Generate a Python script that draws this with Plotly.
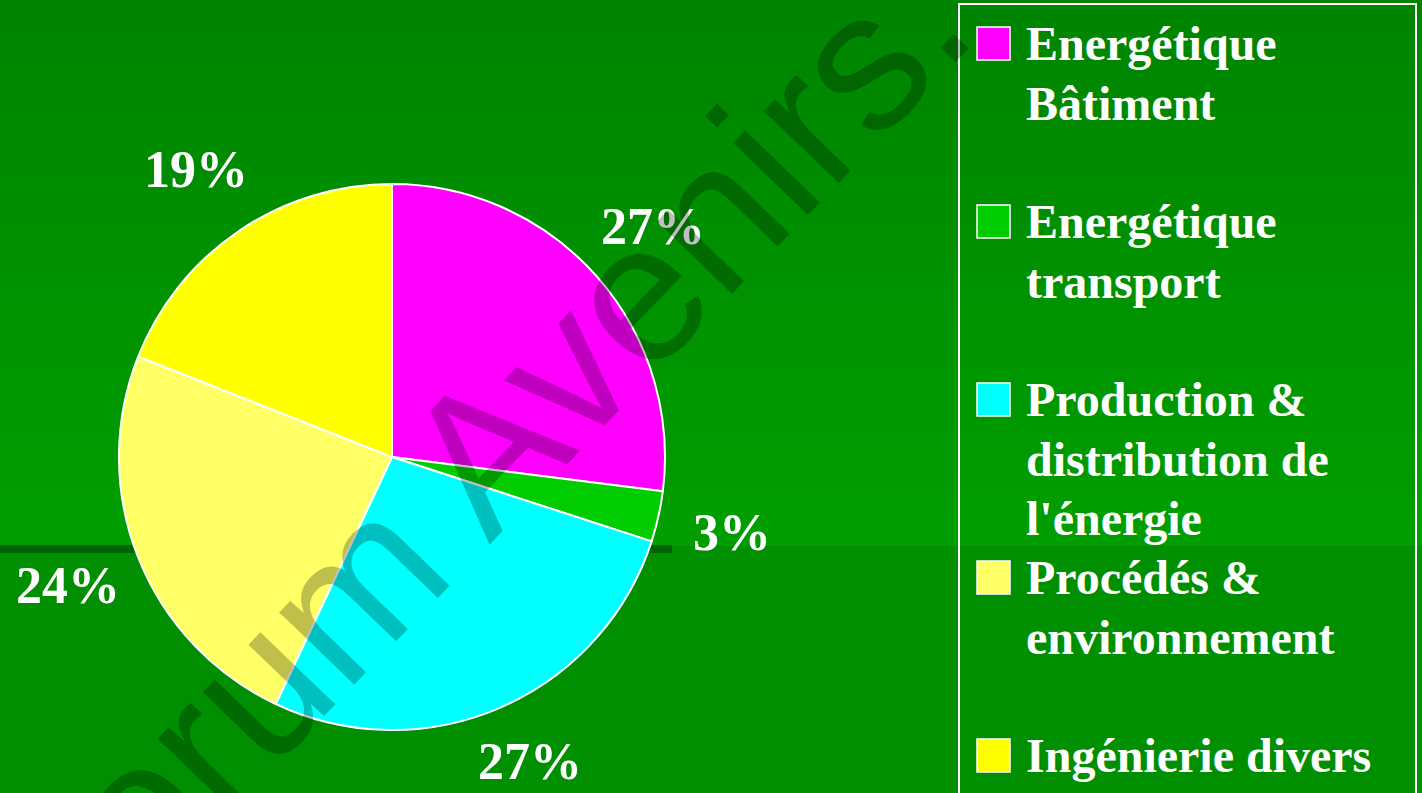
import math
import plotly.graph_objects as go

# ---------------- data ----------------
categories = [
    "Energétique\nBâtiment",
    "Energétique\ntransport",
    "Production &\ndistribution de\nl'énergie",
    "Procédés &\nenvironnement",
    "Ingénierie divers",
]
values = [27, 3, 27, 24, 19]
pct_labels = ["27%", "3%", "27%", "24%", "19%"]
colors = ["#ff00ff", "#00cc00", "#00ffff", "#ffff66", "#ffff00"]
watermark = "Forum Avenirs."

# ---------------- geometry helpers ----------------
W, H = 1422, 793
def px(x):
    return x / W
def py(y):
    return 1 - y / H

CX, CY, R = 392, 457, 273
LABEL_R = R * 1.275
LABEL_FS = 52

fig = go.Figure()
fig.add_trace(go.Pie(
    labels=[c.replace("\n", " ") for c in categories],
    values=values,
    sort=False,
    direction="clockwise",
    rotation=0,
    marker=dict(colors=colors, line=dict(color="white", width=2)),
    textinfo="none",
    hoverinfo="label+percent",
    showlegend=False,
    domain=dict(x=[px(CX - R), px(CX + R)], y=[py(CY + R), py(CY - R)]),
))

shapes = []
annotations = []

# background gradient (upper band) and lower band
N = 60
top_c = (0, 0x84, 0)
bot_c = (0, 0x9e, 0)
split = 546
for i in range(N):
    t = i / (N - 1)
    c = tuple(int(round(a + (b - a) * t)) for a, b in zip(top_c, bot_c))
    y0 = split * i / N
    y1 = split * (i + 1) / N + 0.5
    shapes.append(dict(type="rect", xref="paper", yref="paper", layer="below",
                       x0=0, x1=1, y0=py(y1), y1=py(y0),
                       fillcolor="rgb(%d,%d,%d)" % c, line=dict(width=0)))
shapes.append(dict(type="rect", xref="paper", yref="paper", layer="below",
                   x0=0, x1=1, y0=0, y1=py(split),
                   fillcolor="#008f00", line=dict(width=0)))
# dark decorative rule behind the pie
shapes.append(dict(type="rect", xref="paper", yref="paper", layer="below",
                   x0=0, x1=px(672), y0=py(553), y1=py(545),
                   fillcolor="#006400", line=dict(width=0)))

# percentage labels around the pie (kept inside the canvas)
total = sum(values)
cum = 0
for v, lab in zip(values, pct_labels):
    theta = 2 * math.pi * (cum + v / 2) / total
    cum += v
    lx = CX + LABEL_R * math.sin(theta)
    ly = CY - LABEL_R * math.cos(theta)
    ly = min(ly, H - 0.6 * LABEL_FS)
    annotations.append(dict(
        x=px(lx), y=py(ly), xref="paper", yref="paper",
        text="<b>%s</b>" % lab, showarrow=False,
        xanchor="center", yanchor="middle",
        font=dict(family="Liberation Serif", size=LABEL_FS, color="white"),
    ))

# legend box
shapes.append(dict(type="rect", xref="paper", yref="paper", layer="above",
                   x0=px(959), x1=px(1416), y0=py(805), y1=py(4),
                   line=dict(color="white", width=2), fillcolor="rgba(0,0,0,0)"))

FS = 48
STEP = 178
LINE = 59.5
for k, (cat, col) in enumerate(zip(categories, colors)):
    top = 27 + STEP * k
    shapes.append(dict(type="rect", xref="paper", yref="paper", layer="above",
                       x0=px(977), x1=px(1010), y0=py(top + 33), y1=py(top),
                       fillcolor=col, line=dict(color="white", width=1.5)))
    for j, line in enumerate(cat.split("\n")):
        baseline = top + 33 + LINE * j
        annotations.append(dict(
            x=px(1024), y=py(baseline - 0.3375 * FS), xref="paper", yref="paper",
            text="<b>%s</b>" % line, showarrow=False,
            xanchor="left", yanchor="middle",
            font=dict(family="Liberation Serif", size=FS, color="white"),
        ))

# watermark on top of everything
annotations.append(dict(
    x=px(473), y=py(464), xref="paper", yref="paper",
    text=watermark, showarrow=False, textangle=-46,
    xanchor="center", yanchor="middle",
    font=dict(family="Liberation Sans", size=197, color="rgba(0,0,0,0.25)"),
))

fig.update_layout(
    width=W, height=H,
    margin=dict(l=0, r=0, t=0, b=0),
    paper_bgcolor="#008f00",
    plot_bgcolor="#008f00",
    shapes=shapes,
    annotations=annotations,
    showlegend=False,
)

fig.write_html(
    "out.html",
    config={"displayModeBar": False},
    post_script="document.body.style.margin='0';document.body.style.padding='0';"
                "document.body.style.overflow='hidden';",
)
